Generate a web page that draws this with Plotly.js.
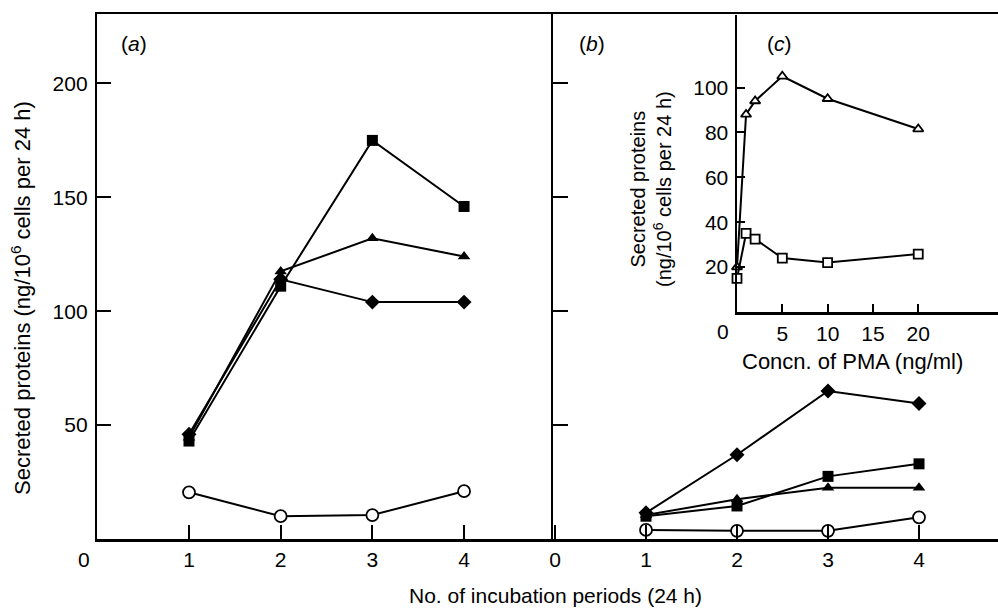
<!DOCTYPE html>
<html>
<head>
<meta charset="utf-8">
<script src="https://cdn.plot.ly/plotly-3.0.1.min.js"></script>
<style>html,body{margin:0;padding:0;background:#fff;}#chart{width:998px;height:610px;}</style>
</head>
<body>
<div id="chart"></div>
<script>
// ---- Data ----
const periods = [1, 2, 3, 4];

// Panel (a)
const aSquare   = [43, 111, 175, 146];
const aTriangle = [44.5, 117.5, 132, 124];
const aDiamond  = [46, 114, 104, 104];
const aCircle   = [20.5, 10, 10.5, 21];

// Panel (b)
const bDiamond  = [11.5, 37, 65, 59.5];
const bSquare   = [10, 14.5, 27.5, 33];
const bTriangle = [10.5, 17.5, 22.5, 22.5];
const bCircle   = [4, 3.6, 3.6, 9.5];

// Panel (c) inset
const pmaConc     = [0, 1, 2, 5, 10, 20];
const cTriangle   = [20, 88, 94, 105, 95, 81.5];
const cSquare     = [15, 35, 32.5, 24, 22, 25.8];

const mainYTicks = [50, 100, 150, 200];
const insetYTicks = [20, 40, 60, 80, 100];
const insetXTicks = [5, 10, 15, 20];

// ---- Geometry helpers (pixel -> paper) ----
const W = 998, H = 610;
const px = v => v / W;
const py = v => 1 - v / H;

const FONT = "Liberation Sans, Arial, Helvetica, sans-serif";
const black = "#000";

function line(x, y, xa, ya, symbol, size, open) {
  return {
    x: x, y: y, xaxis: xa, yaxis: ya, type: "scatter", mode: "lines+markers",
    line: {color: black, width: 2},
    marker: {
      symbol: symbol, size: size,
      color: open ? "#fff" : black,
      line: {color: black, width: open ? 1.8 : 0}
    },
    cliponaxis: false, showlegend: false, hoverinfo: "x+y"
  };
}

const traces = [
  line(periods, aSquare, "x", "y", "square", 11, false),
  line(periods, aTriangle, "x", "y", "triangle-up", 11, false),
  line(periods, aDiamond, "x", "y", "diamond", 11.5, false),
  line(periods, aCircle, "x", "y", "circle", 12, true),

  line(periods, bDiamond, "x2", "y2", "diamond", 11.5, false),
  line(periods, bSquare, "x2", "y2", "square", 11, false),
  line(periods, bTriangle, "x2", "y2", "triangle-up", 11, false),
  line(periods, bCircle, "x2", "y2", "circle", 12, true),

  line(pmaConc, cTriangle, "x3", "y3", "triangle-up", 9, true),
  line(pmaConc, cSquare, "x3", "y3", "square", 9, true)
];

const tickFont = {family: FONT, size: 21, color: black};
const axLine = {showline: true, linecolor: black, linewidth: 2.5, showgrid: false, zeroline: false,
  ticks: "inside", tickcolor: black, tickwidth: 2, tickfont: tickFont};

function note(text, x, y, size, angle) {
  return {text: text, x: px(x), y: py(y), xref: "paper", yref: "paper", showarrow: false,
    xanchor: "center", yanchor: "middle", textangle: angle || 0,
    font: {family: FONT, size: size, color: black}};
}

const yDom = [py(539), py(14)];
const layout = {
  width: W, height: H,
  margin: {l: 0, r: 0, t: 0, b: 0, pad: 0},
  paper_bgcolor: "#fff", plot_bgcolor: "rgba(0,0,0,0)",
  showlegend: false,
  xaxis: Object.assign({}, axLine, {
    domain: [px(97.3), px(553)], range: [0, 4.97], anchor: "y",
    tickvals: periods, ticklen: 14, mirror: true, ticklabelstandoff: 0
  }),
  yaxis: Object.assign({}, axLine, {
    domain: yDom, range: [0, 230.5], anchor: "x",
    tickvals: mainYTicks, ticklen: 14, ticklabelstandoff: 3
  }),
  xaxis2: Object.assign({}, axLine, {
    domain: [px(553), 1], range: [-0.022, 4.868], anchor: "y2",
    tickvals: [0].concat(periods), ticklen: 14, mirror: true, ticklabelstandoff: 0
  }),
  yaxis2: Object.assign({}, axLine, {
    domain: yDom, range: [0, 230.5], anchor: "x2",
    tickvals: mainYTicks, ticklen: 15, showticklabels: false
  }),
  xaxis3: Object.assign({}, axLine, {
    domain: [px(737), 1], range: [0, 28.8], anchor: "y3",
    tickvals: insetXTicks, ticklen: 8, ticklabelstandoff: 1
  }),
  yaxis3: Object.assign({}, axLine, {
    domain: [py(312), py(15)], range: [0, 132.3], anchor: "x3",
    tickvals: insetYTicks, ticklen: 8, ticklabelstandoff: 2
  }),
  annotations: [
    note("0", 84, 559, 21),
    note("0", 723, 331, 21),
    note("(<i>a</i>)", 134, 43, 21),
    note("(<i>b</i>)", 592, 43, 21),
    note("(<i>c</i>)", 779, 43, 21),
    note("No. of incubation periods (24 h)", 555, 595, 21),
    note("Secreted proteins (ng/10<sup>6</sup> cells per 24 h)", 21, 298, 22, -90),
    note("Concn. of PMA (ng/ml)", 852, 362, 22),
    note("Secreted proteins<br>(ng/10<sup>6</sup> cells per 24 h)", 651, 189, 20, -90)
  ]
};

Plotly.newPlot("chart", traces, layout, {displayModeBar: false, staticPlot: true});
</script>
</body>
</html>
